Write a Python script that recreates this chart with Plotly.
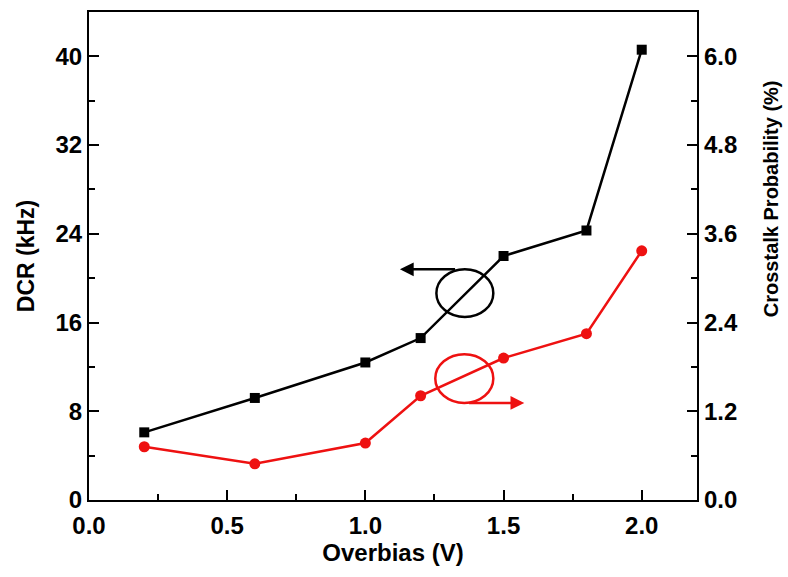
import plotly.graph_objects as go

overbias = [0.2, 0.6, 1.0, 1.2, 1.5, 1.8, 2.0]
dcr_khz = [6.1, 9.2, 12.4, 14.6, 22.0, 24.3, 40.6]
crosstalk_pct = [0.72, 0.49, 0.77, 1.41, 1.92, 2.25, 3.37]

x_ticks = [0.0, 0.5, 1.0, 1.5, 2.0]
y_ticks = [0, 8, 16, 24, 32, 40]
y2_ticks = [0.0, 1.2, 2.4, 3.6, 4.8, 6.0]

FONT = "Liberation Sans, Arial, sans-serif"
TICKF = dict(family=FONT, size=24, color="black", weight="bold")
TITLEF = dict(family=FONT, size=23, color="black", weight="bold")

fig = go.Figure()
fig.add_trace(go.Scatter(
    x=overbias, y=dcr_khz, mode="lines+markers",
    line=dict(color="black", width=2.5),
    marker=dict(symbol="square", size=10, color="black"),
    yaxis="y", showlegend=False))
fig.add_trace(go.Scatter(
    x=overbias, y=crosstalk_pct, mode="lines+markers",
    line=dict(color="#ee1111", width=2.5),
    marker=dict(symbol="circle", size=11, color="#ee1111"),
    yaxis="y2", showlegend=False))

# Indicator ellipses (which curve belongs to which axis)
fig.add_shape(type="circle", xref="x", yref="y",
              x0=1.257, x1=1.463, y0=16.5, y1=20.8,
              line=dict(color="black", width=2.5))
fig.add_shape(type="circle", xref="x", yref="y",
              x0=1.253, x1=1.463, y0=8.75, y1=13.15,
              line=dict(color="#ee1111", width=2.5))
fig.add_annotation(x=1.125, y=20.8, ax=1.33, ay=20.8, xref="x", yref="y",
                   axref="x", ayref="y", showarrow=True, arrowhead=2,
                   arrowsize=1.1, arrowwidth=2.5, arrowcolor="black", text="")
fig.add_annotation(x=1.575, y=8.75, ax=1.37, ay=8.75, xref="x", yref="y",
                   axref="x", ayref="y", showarrow=True, arrowhead=2,
                   arrowsize=1.1, arrowwidth=2.5, arrowcolor="#ee1111", text="")

# Right-axis title (placed above centre, as in the original)
fig.add_annotation(text="Crosstalk Probability (%)", textangle=-90,
                   xref="paper", yref="paper", x=1.123, y=0.618,
                   xanchor="center", yanchor="middle", showarrow=False,
                   font=dict(family=FONT, size=20, color="black", weight="bold"))

axis_common = dict(showgrid=False, zeroline=False, showline=True,
                   linecolor="black", linewidth=2.2,
                   ticks="inside", ticklen=10, tickwidth=2, tickcolor="black",
                   tickfont=TICKF)

fig.update_layout(
    width=788, height=577,
    margin=dict(l=89, r=91, t=10, b=77),
    paper_bgcolor="white", plot_bgcolor="white",
    xaxis=dict(range=[0, 2.2], tickvals=x_ticks, ticktext=[f"{v:.1f}" for v in x_ticks],
               mirror=True, ticklabelstandoff=3,
               minor=dict(ticks="inside", ticklen=6, tickwidth=2, tickcolor="black", dtick=0.25, tick0=0),
               title=dict(text="Overbias (V)", font=dict(TITLEF, size=24), standoff=2),
               **axis_common),
    yaxis=dict(range=[0, 44], tickvals=y_ticks, ticktext=[str(v) for v in y_ticks],
               ticklabelstandoff=0,
               minor=dict(ticks="inside", ticklen=6, tickwidth=2, tickcolor="black", dtick=4, tick0=0),
               title=dict(text="DCR (kHz)", font=TITLEF, standoff=14),
               **axis_common),
    yaxis2=dict(range=[0, 6.6], overlaying="y", side="right",
                tickvals=y2_ticks, ticktext=[f"{v:.1f}" for v in y2_ticks],
                ticklabelstandoff=0,
                minor=dict(ticks="inside", ticklen=6, tickwidth=2, tickcolor="black", dtick=0.6, tick0=0),
                **axis_common),
)

fig.write_html("out.html")
